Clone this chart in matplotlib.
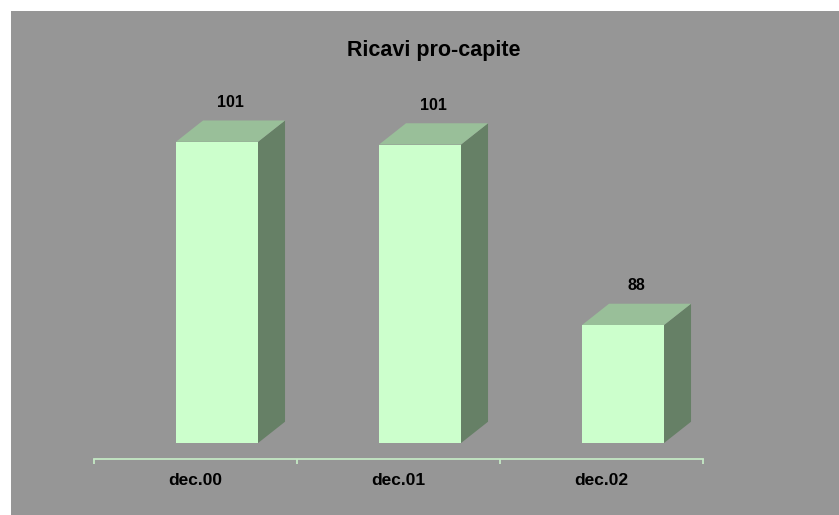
import matplotlib
matplotlib.use("Agg")
import matplotlib.pyplot as plt
from matplotlib.patches import Rectangle, Polygon

plt.rcParams["font.family"] = ["Liberation Sans", "DejaVu Sans"]

categories = ["dec.00", "dec.01", "dec.02"]
values = [101.2, 101.0, 88.0]
labels = ["101", "101", "88"]
title = "Ricavi pro-capite"

base = 79.5          # value where the bar fronts start
ymin, ymax = 78.35, 110.62

front_col = "#ccffcc"
top_col = "#99bf99"
side_col = "#668066"
bg_col = "#969696"
axis_col = "#c4e8c4"

W, H = 839, 515
fig = plt.figure(figsize=(W / 100, H / 100), dpi=100)
fig.patch.set_facecolor("white")
fig.add_artist(Rectangle((11 / W, 0), 1 - 11 / W, 1 - 11 / H,
                         transform=fig.transFigure, facecolor=bg_col,
                         edgecolor="none", zorder=-10))

# axes in pixel terms: x 94..703, y 11..459 (from top)
ax_l, ax_r, ax_t, ax_b = 94, 703, 11, 459
ax = fig.add_axes([ax_l / W, 1 - ax_b / H, (ax_r - ax_l) / W, (ax_b - ax_t) / H])
ax.set_facecolor("none")
ax.set_xlim(0, len(categories))
ax.set_ylim(ymin, ymax)

px_x = (ax_r - ax_l) / len(categories)
px_y = (ax_b - ax_t) / (ymax - ymin)
dx = 27 / px_x
dy = 21.3 / px_y
off = 0.404
bw = 0.404

xs = [i + off for i in range(len(categories))]
ax.bar(xs, [v - base for v in values], width=bw, bottom=base, align="edge",
       color=front_col, edgecolor="none", zorder=3)

for x, v, lab in zip(xs, values, labels):
    side = [(x + bw, base), (x + bw + dx, base + dy), (x + bw + dx, v + dy), (x + bw, v)]
    top = [(x, v), (x + bw, v), (x + bw + dx, v + dy), (x + dx, v + dy)]
    ax.add_patch(Polygon(side, closed=True, facecolor=side_col, edgecolor="none", zorder=2))
    ax.add_patch(Polygon(top, closed=True, facecolor=top_col, edgecolor="none", zorder=2))
    ax.annotate(lab, (x + (bw + dx) / 2, v + dy), xytext=(0, 13.5 * 0.72),
                textcoords="offset points", ha="center", va="baseline",
                fontsize=11.5, fontweight="bold", color="black")

for s in ["top", "left", "right"]:
    ax.spines[s].set_visible(False)
ax.spines["bottom"].set_color(axis_col)
ax.spines["bottom"].set_linewidth(1.3)
ax.set_yticks([])
ax.set_xticks(range(len(categories) + 1))
ax.set_xticklabels([])
ax.tick_params(axis="x", direction="out", length=5 * 0.72, width=1.3, color=axis_col)

for i, c in enumerate(categories):
    ax.annotate(c, (i + 0.5, 0), xycoords=("data", "axes fraction"),
                xytext=(0, -26.3 * 0.72), textcoords="offset points",
                ha="center", va="baseline", fontsize=12.5, fontweight="bold",
                color="black")

fig.text(433.7 / W, 1 - 56 / H, title, ha="center", va="baseline",
         fontsize=15.5, fontweight="bold", color="black")

fig.savefig("out.png", dpi=100, facecolor=fig.get_facecolor())
